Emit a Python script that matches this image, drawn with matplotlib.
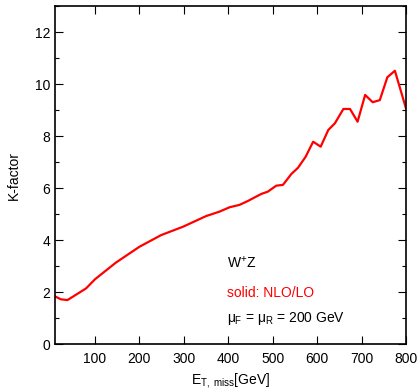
import matplotlib
matplotlib.use("Agg")
import matplotlib.pyplot as plt
from matplotlib.ticker import MultipleLocator

plt.rcParams["font.family"] = ["Liberation Sans", "DejaVu Sans"]
plt.rcParams["mathtext.fontset"] = "custom"
plt.rcParams["mathtext.rm"] = "Liberation Sans"
plt.rcParams["mathtext.it"] = "Liberation Sans"

# missing E_T (GeV) and K-factor
et_miss = [8, 23, 38, 53, 80, 100, 147, 200, 249, 298, 350, 380, 403, 425, 444,
           474, 489, 508, 523, 542, 557, 574, 591, 608, 625, 640, 659, 674, 691,
           708, 725, 741, 758, 775, 800]
k_factor = [1.85, 1.72, 1.69, 1.85, 2.14, 2.49, 3.13, 3.74, 4.19, 4.51, 4.92,
            5.09, 5.26, 5.35, 5.5, 5.77, 5.86, 6.09, 6.12, 6.54, 6.78, 7.2,
            7.78, 7.59, 8.23, 8.49, 9.04, 9.04, 8.55, 9.58, 9.3, 9.38, 10.26,
            10.51, 9.06]

fig = plt.figure(figsize=(4.18, 3.88), dpi=100)
ax = fig.add_axes([0.1316, 0.1134, 0.8397, 0.8711])

ax.plot(et_miss, k_factor, color="red", lw=1.6)

ax.set_xlim(10, 800)
ax.set_ylim(0, 13)
ax.xaxis.set_major_locator(MultipleLocator(100))
ax.yaxis.set_major_locator(MultipleLocator(2))
ax.yaxis.set_minor_locator(MultipleLocator(1))
ax.set_xticks(range(100, 801, 100))
ax.tick_params(which="both", direction="in", top=True, right=True, labelsize=10)
ax.tick_params(which="major", length=6, width=0.8)
ax.tick_params(which="minor", length=3, width=0.8)
ax.tick_params(axis="x", pad=6)
for s in ax.spines.values():
    s.set_linewidth(1.2)

ax.set_ylabel("K-factor", fontsize=10, labelpad=10)
ax.set_xlabel(r"E$_{\mathrm{T,\ miss}}$[GeV]", fontsize=10, labelpad=3)

ax.text(398, 3.15, r"W$^{+}$Z", fontsize=10, va="center")
ax.text(398, 1.96, "solid: NLO/LO", fontsize=10, va="center", color="red")
ax.text(398, 1.0, r"$\mu_{\mathrm{F}}$ = $\mu_{\mathrm{R}}$ = 200 GeV", fontsize=10, va="center")

fig.savefig("out.png", dpi=100)
